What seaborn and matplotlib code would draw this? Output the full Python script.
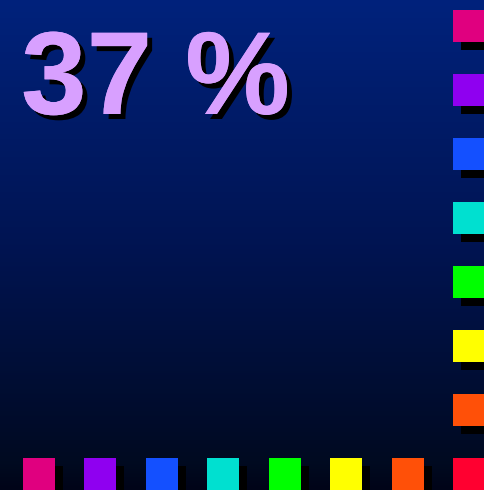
import numpy as np
import matplotlib
matplotlib.use("Agg")
import matplotlib.pyplot as plt
import matplotlib.patheffects as pe
import seaborn as sns
from matplotlib.colors import LinearSegmentedColormap

# Data
headline = "37 %"
swatch_names = ["magenta", "purple", "blue", "cyan", "green", "yellow", "orange", "red"]
swatch_colors = ["#E0007F", "#8F00F0", "#1450FF", "#00E0D0", "#00FF00", "#FFFF00", "#FF5008", "#FF0030"]

sns.set_theme(style="white")
plt.rcParams['font.family'] = ['Liberation Sans', 'DejaVu Sans']

W, H = 485, 490
fig = plt.figure(figsize=(W / 100, H / 100), dpi=100)
ax = fig.add_axes([0, 0, 1, 1])
ax.set_xlim(0, W)
ax.set_ylim(H, 0)
ax.axis("off")

# background gradient
bg = LinearSegmentedColormap.from_list(
    "bg", [(0.0, "#00227C"), (0.5, "#001452"), (0.85, "#000C2C"), (0.95, "#000A20"), (1.0, "#000418")])
grad = np.linspace(0, 1, 256).reshape(-1, 1)
ax.imshow(grad, cmap=bg, aspect="auto", extent=[0, W, H, 0], zorder=0)

# squares
n = len(swatch_colors)
size = 32
shadow = 8
xs = 23 + np.arange(n) * (W - size - 23) / (n - 1)
ys = 10 + np.arange(n) * (H - size - 10) / (n - 1)

# bottom row
ax.bar(xs + shadow, size, width=size, bottom=H - size + shadow, align="edge",
       color="black", linewidth=0, zorder=1)
ax.bar(xs, size, width=size, bottom=H - size, align="edge",
       color=swatch_colors, linewidth=0, zorder=2)
# right column
ax.barh(ys + shadow, size, height=size, left=W - size + shadow, align="edge",
        color="black", linewidth=0, zorder=1)
ax.barh(ys, size, height=size, left=W - size, align="edge",
        color=swatch_colors, linewidth=0, zorder=2)

# headline with drop shadow
ax.text(21, 114, headline, fontsize=85, fontweight="bold", color="#D8A0FF", va="baseline", zorder=4,
        path_effects=[pe.withSimplePatchShadow(offset=(3.6, -3.6), shadow_rgbFace="black", alpha=1),
                      pe.Normal()])

fig.savefig("out.png", dpi=100)
